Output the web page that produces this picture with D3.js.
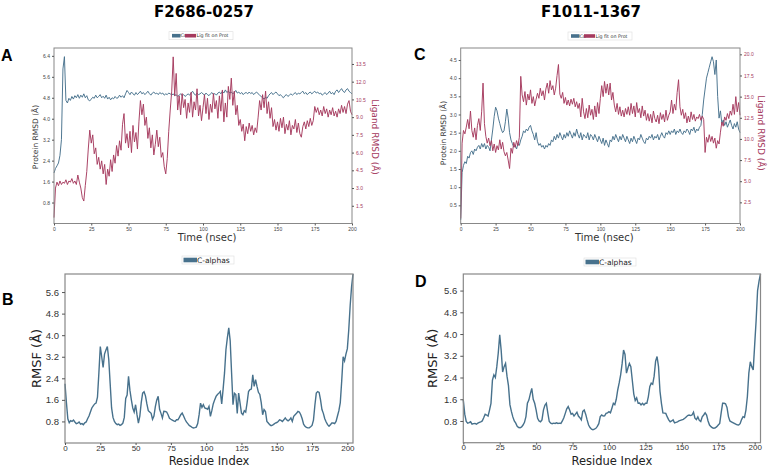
<!DOCTYPE html>
<html>
<head>
<meta charset="utf-8">
<script src="https://cdn.jsdelivr.net/npm/d3@7"></script>
<style>
  body { margin: 0; background: #fff; }
  svg { font-family: "DejaVu Sans", sans-serif; }
</style>
</head>
<body>
<div id="chart"></div>
<script>
// ---- data ----
var titles = ["F2686-0257", "F1011-1367"]
var timeTicks = [0, 25, 50, 75, 100, 125, 150, 175, 200]
var residueTicks = [0, 25, 50, 75, 100, 125, 150, 175, 200]

// panel A : protein RMSD (left axis) and ligand RMSD (right axis), 1 value per ns
var protA = [1.93, 2.1, 2.2, 2.31, 2.6, 3.2, 5.9, 6.37, 4.7, 4.6,
  4.78, 4.7, 4.85, 4.75, 4.88, 4.8, 4.92, 4.78, 4.9, 4.82,
  4.95, 4.8, 4.88, 4.72, 4.68, 4.75, 4.82, 4.78, 4.9, 4.8,
  4.85, 4.92, 4.8, 4.86, 4.78, 4.9, 4.75, 4.82, 4.72, 4.8,
  4.76, 4.85, 4.78, 4.8, 4.9, 4.82, 4.88, 4.8, 4.95, 5.08,
  5.0, 4.92, 5.02, 4.95, 4.9, 5.0, 4.92, 4.98, 5.05, 4.95,
  5.0, 4.92, 4.98, 5.05, 4.96, 4.9, 4.98, 5.02, 4.95, 4.98,
  4.92, 5.0, 4.95, 4.98, 4.9, 4.95, 4.92, 4.98, 4.95, 4.9,
  4.95, 4.88, 4.92, 4.85, 4.9, 4.95, 4.88, 4.92, 4.85, 4.9,
  4.95, 4.9, 4.98, 5.05, 4.95, 4.9, 4.98, 4.92, 4.95, 5.0,
  4.95, 4.9, 4.98, 4.92, 4.88, 4.95, 5.0, 4.92, 4.96, 4.9,
  4.98, 5.02, 4.95, 5.05, 4.98, 5.1, 5.0, 5.05, 4.98, 5.02,
  4.95, 5.0, 5.08, 4.98, 5.02, 4.95, 5.0, 4.92, 4.98, 5.0,
  4.95, 5.02, 4.96, 5.0, 4.92, 4.98, 5.02, 4.95, 4.9, 4.85,
  4.8, 4.75, 4.82, 4.78, 4.88, 4.95, 5.0, 4.92, 4.98, 5.02,
  4.95, 4.88, 4.92, 4.85, 4.8, 4.88, 4.92, 4.85, 4.9, 4.95,
  4.9, 4.95, 5.0, 4.92, 4.98, 4.95, 5.0, 5.05, 4.95, 5.0,
  4.92, 4.98, 5.02, 4.95, 5.0, 5.05, 4.98, 5.02, 4.95, 4.98,
  4.9, 4.95, 5.0, 4.92, 4.98, 5.05, 4.95, 5.0, 4.92, 5.05,
  5.1, 5.0, 5.08, 5.15, 5.05, 5.0, 5.1, 5.15, 5.05, 5.0, 4.95]
var ligA = [0.5, 3.0, 3.5, 3.2, 3.6, 3.3, 3.5, 3.4, 3.7, 3.3,
  3.6, 3.5, 3.8, 3.4, 3.6, 3.3, 4.1, 3.5, 3.0, 2.2,
  1.9, 3.2, 4.4, 6.3, 7.9, 6.8, 7.5, 5.9, 6.4, 5.0,
  5.6, 4.6, 5.3, 4.2, 5.0, 3.3, 4.6, 4.0, 5.4, 4.4,
  5.8, 5.1, 6.6, 5.7, 7.0, 6.2, 8.4, 9.3, 6.8, 7.6,
  6.4, 7.8, 6.0, 8.3, 6.9, 7.7, 6.3, 8.6, 10.4, 9.2,
  10.1, 8.3, 9.0, 7.2, 8.1, 6.4, 7.5, 5.8, 6.7, 7.9,
  6.5, 7.3, 5.6, 6.0, 4.8, 4.2, 5.5, 7.8, 9.6, 11.2,
  14.1, 10.8, 12.7, 9.6, 10.8, 9.2, 11.0, 9.8, 10.5, 8.9,
  10.2, 9.4, 11.1, 9.0, 10.3, 9.6, 11.4, 9.1, 10.0, 8.7,
  9.8, 10.9, 9.3, 10.6, 8.8, 10.1, 9.4, 11.0, 9.7, 10.4,
  8.9, 10.8, 9.5, 11.3, 8.6, 10.2, 9.0, 11.6, 10.5, 12.3,
  10.0, 11.2, 9.2, 10.0, 8.3, 8.8, 7.8, 8.4, 7.0, 8.2,
  7.6, 8.5, 7.8, 8.3, 7.5, 8.1, 7.7, 9.0, 10.4, 9.6,
  10.9, 9.8, 11.2, 9.3, 10.3, 8.9, 9.8, 8.2, 8.8, 7.9,
  8.6, 7.8, 8.9, 8.1, 9.0, 7.6, 8.4, 7.9, 8.7, 7.5,
  8.3, 8.0, 8.8, 7.7, 8.5, 7.6, 7.3, 8.2, 8.6, 8.0,
  8.7, 8.2, 8.9, 8.3, 8.7, 9.9, 9.4, 9.8, 9.2, 9.6,
  9.1, 9.9, 9.3, 9.7, 9.0, 9.6, 9.2, 9.8, 9.1, 9.5,
  9.0, 9.7, 9.3, 10.0, 9.4, 9.9, 9.3, 10.1, 10.4, 9.5, 9.2]

// panel C
var protC = [0.1, 1.4, 1.6, 1.7, 1.65, 1.85, 1.8, 1.95, 2.0, 1.9,
  2.05, 2.0, 2.1, 2.15, 2.05, 2.2, 2.1, 2.2, 2.05, 2.15,
  2.1, 2.0, 2.3, 2.6, 2.95, 3.2, 3.1, 2.9, 2.75, 2.6,
  2.5, 2.55, 2.8, 3.15, 2.9, 2.5, 2.3, 2.2, 2.1, 2.15,
  2.05, 2.2, 2.15, 2.3, 2.4, 2.55, 2.5, 2.6, 2.55, 2.65,
  2.7, 2.55, 2.45, 2.3, 2.5, 2.25, 2.15, 2.2, 2.1, 2.15,
  2.05, 2.15, 2.1, 2.2, 2.15, 2.3, 2.25, 2.4, 2.3, 2.45,
  2.35, 2.5, 2.4, 2.3, 2.45, 2.35, 2.5, 2.4, 2.55, 2.45,
  2.35, 2.5, 2.4, 2.6, 2.45, 2.35, 2.5, 2.3, 2.45, 2.4,
  2.35, 2.5, 2.3, 2.45, 2.4, 2.3, 2.45, 2.35, 2.25, 2.4,
  2.3, 2.2, 2.35, 2.15, 2.3, 2.2, 2.1, 2.3, 2.25, 2.4,
  2.3, 2.45, 2.35, 2.25, 2.4, 2.3, 2.45, 2.35, 2.25, 2.4,
  2.3, 2.2, 2.35, 2.25, 2.4, 2.3, 2.2, 2.35, 2.3, 2.45,
  2.35, 2.25, 2.2, 2.35, 2.3, 2.4, 2.35, 2.45, 2.3, 2.4,
  2.35, 2.45, 2.3, 2.4, 2.5, 2.4, 2.35, 2.5, 2.45, 2.55,
  2.45, 2.55, 2.5, 2.6, 2.45, 2.55, 2.5, 2.6, 2.5, 2.45,
  2.55, 2.5, 2.6, 2.55, 2.45, 2.6, 2.55, 2.65, 2.5, 2.6,
  2.55, 2.65, 2.7, 3.0, 3.4, 3.7, 4.0, 4.15, 4.3, 4.45,
  4.59, 4.45, 4.1, 4.5, 3.5, 2.9, 3.1, 2.75, 2.85, 2.7,
  2.8, 2.65, 2.75, 2.85, 2.7, 2.6, 2.75, 2.65, 2.8, 2.6, 2.5]
var ligC = [0.6, 9.5, 11.0, 10.6, 11.4, 12.3, 11.2, 13.3, 11.0, 10.2,
  11.3, 9.9, 11.6, 12.4, 11.0, 13.2, 16.6, 11.8, 10.3, 9.5,
  10.1, 9.2, 9.8, 8.6, 9.4, 8.4, 9.2, 8.7, 9.9, 8.8,
  9.6, 8.5, 8.0, 8.4, 7.5, 6.5, 8.9, 8.3, 9.6, 9.0,
  9.8, 9.2, 10.2, 17.4, 15.2, 14.4, 15.6, 14.0, 15.3, 14.6,
  15.8, 14.2, 15.0, 13.9, 14.7, 15.4, 14.8, 16.0, 15.1, 15.7,
  14.6, 15.9, 16.6, 15.4, 16.9, 15.8, 16.3, 15.2, 16.0, 17.5,
  18.8, 15.3, 14.8, 15.5, 14.2, 14.9, 14.0, 14.6, 13.9, 14.7,
  14.1, 14.8, 13.8, 14.4, 13.6, 14.2, 12.6, 14.8, 13.2, 12.4,
  13.6, 12.5, 14.0, 12.8, 13.5, 12.3, 13.9, 12.6, 14.3, 13.0,
  14.8, 16.3, 15.0, 16.8, 15.4, 16.5, 15.2, 16.6, 14.6, 15.5,
  14.0, 13.2, 14.2, 12.9, 13.8, 12.7, 13.4, 12.6, 13.6, 12.9,
  13.8, 12.8, 14.2, 13.0, 13.9, 12.6, 14.3, 13.1, 13.6, 12.5,
  13.9, 12.7, 13.4, 12.2, 13.0, 12.1, 12.9, 11.9, 13.3, 12.4,
  12.0, 12.8, 11.8, 13.1, 12.3, 12.9, 12.0, 13.4, 12.2, 12.8,
  13.2, 14.6, 13.0, 14.1, 13.4, 15.5, 17.0, 13.8, 12.8, 13.5,
  12.4, 13.1, 11.9, 12.7, 12.0, 13.2, 12.3, 12.9, 12.1, 12.6,
  12.4, 12.9, 12.2, 12.7, 12.3, 8.4, 10.2, 9.6, 10.5, 9.7,
  10.3, 9.5, 10.1, 8.9, 9.8, 9.4, 10.8, 12.0, 11.5, 12.6,
  12.2, 13.0, 12.4, 13.3, 12.8, 14.1, 12.9, 15.0, 13.2, 14.3, 12.8]

// panel B / D : C-alpha RMSF per residue index 0..204
var rmsfB = [2.2, 1.5, 0.9, 0.75, 0.83, 0.8, 0.85, 0.78, 0.72, 0.74,
  0.78, 0.7, 0.72, 0.68, 0.75, 0.78, 0.9, 1.0, 1.15, 1.3,
  1.38, 1.45, 1.48, 1.7, 2.6, 3.58, 3.2, 2.8, 3.3, 3.45,
  3.58, 3.1, 2.2, 1.3, 0.95, 0.8, 0.72, 0.68, 0.7, 0.65,
  0.68, 0.74, 0.95, 1.65, 1.78, 2.47, 1.95, 1.6, 1.3, 1.15,
  1.42, 1.05, 0.74, 1.0, 1.5, 1.85, 1.9, 1.75, 1.45, 1.2,
  1.15, 1.1, 0.88, 1.0, 1.35, 1.6, 1.73, 1.25, 1.1, 0.93,
  1.18, 1.17, 1.15, 1.05, 0.92, 0.88, 0.85, 0.82, 0.8, 0.86,
  0.86, 0.95, 1.05, 1.11, 1.0, 0.88, 0.78, 0.72, 0.65, 0.62,
  0.58, 0.56, 0.57, 0.59, 0.72, 1.05, 1.48, 1.32, 1.42, 1.3,
  1.28, 1.25, 1.36, 0.99, 1.2, 1.45, 1.6, 1.73, 1.8, 1.85,
  1.91, 1.45, 2.0, 2.6, 3.46, 3.9, 4.27, 3.8, 2.6, 1.42,
  1.85, 1.8, 1.1, 1.85, 1.48, 1.11, 1.05, 1.2, 1.15, 1.5,
  1.91, 1.98, 2.0, 2.53, 2.1, 2.35, 2.1, 1.88, 1.8, 1.5,
  1.05, 1.24, 1.17, 0.8, 0.74, 0.68, 0.64, 0.66, 0.7, 0.74,
  0.76, 0.8, 0.86, 0.84, 0.8, 0.86, 0.93, 0.86, 0.82, 0.86,
  0.93, 0.8, 0.99, 1.05, 1.1, 1.17, 1.15, 1.05, 0.9, 0.7,
  0.62, 0.58, 0.56, 0.56, 0.6, 0.65, 0.85, 1.4, 1.85, 1.91,
  1.88, 1.6, 1.24, 1.1, 0.9, 0.78, 0.68, 0.62, 0.68, 0.74,
  0.74, 0.72, 0.8, 1.0, 1.2, 1.5, 2.3, 3.2, 3.05, 3.3,
  3.5, 4.2, 5.1, 5.8, 6.27]
var rmsfD = [1.57, 1.05, 0.78, 0.72, 0.74, 0.77, 0.68, 0.7, 0.71, 0.68,
  0.72, 0.75, 0.77, 0.8, 0.92, 1.05, 1.02, 0.98, 1.2, 1.45,
  2.3, 2.5, 2.4, 2.8, 3.3, 3.97, 3.4, 2.6, 2.8, 2.92,
  2.45, 2.1, 1.4, 1.15, 0.95, 0.8, 0.72, 0.6, 0.56, 0.55,
  0.58, 0.65, 0.75, 0.96, 1.45, 1.57, 1.8, 2.0, 1.6, 1.45,
  1.2, 0.9, 0.8, 0.77, 0.84, 1.2, 1.38, 1.45, 1.1, 0.78,
  0.72, 0.7, 0.72, 0.71, 0.73, 0.71, 0.72, 0.71, 0.8, 0.92,
  1.08, 1.25, 1.33, 1.2, 1.05, 1.08, 0.98, 1.05, 1.12, 0.98,
  0.92, 0.84, 1.15, 1.2, 1.05, 0.84, 0.65, 0.56, 0.5, 0.48,
  0.5, 0.53, 0.6, 0.7, 0.96, 1.02, 0.98, 0.99, 1.08, 1.1,
  1.14, 1.1, 1.27, 1.45, 1.4, 1.6, 1.94, 2.2, 2.5, 2.9,
  3.41, 3.25, 2.56, 2.75, 2.92, 2.8, 2.3, 1.8, 1.55, 1.65,
  1.45, 1.46, 1.39, 1.45, 1.39, 1.45, 1.45, 1.69, 2.06, 2.19,
  2.15, 2.45, 3.0, 3.17, 2.8, 1.9, 1.45, 1.1, 1.09, 1.08,
  0.95, 0.84, 0.77, 0.8, 0.84, 0.73, 0.75, 0.77, 0.8, 0.82,
  0.84, 0.86, 0.9, 0.95, 1.0, 1.02, 1.0, 1.02, 1.12, 0.9,
  0.85, 0.95, 0.82, 0.78, 0.95, 1.02, 1.1, 1.02, 0.8, 0.65,
  0.59, 0.55, 0.53, 0.55, 0.59, 0.65, 0.71, 1.1, 1.45, 1.45,
  1.43, 1.3, 0.96, 0.8, 0.77, 0.74, 0.71, 0.68, 0.66, 0.65,
  0.7, 0.85, 0.96, 0.93, 1.2, 1.7, 2.56, 2.98, 2.8, 2.68,
  3.6, 4.5, 5.6, 5.95, 6.21]

var protTicksA = [0.8, 1.6, 2.4, 3.2, 4.0, 4.8, 5.6, 6.4]
var ligTicksA = [1.5, 3.0, 4.5, 6.0, 7.5, 9.0, 10.5, 12.0, 13.5]
var protTicksC = [0.5, 1.0, 1.5, 2.0, 2.5, 3.0, 3.5, 4.0, 4.5]
var ligTicksC = [2.5, 5.0, 7.5, 10.0, 12.5, 15.0, 17.5, 20.0]
var rmsfTicks = [0.8, 1.6, 2.4, 3.2, 4.0, 4.8, 5.6]

var blue = "#47718c"
var red = "#a53a5e"
var width = 771, height = 467

var svg = d3.select("#chart").append("svg")
    .attr("width", width)
    .attr("height", height)

// titles and panel letters
svg.selectAll("text.title").data(titles).enter().append("text")
    .attr("class", "title")
    .attr("x", function(d, i) { return i == 0 ? 204 : 591 })
    .attr("y", 17)
    .attr("text-anchor", "middle")
    .style("font-size", "15px").style("font-weight", "bold")
    .text(function(d) { return d })

var letters = [["A", 1, 61], ["B", 2, 305], ["C", 414, 60], ["D", 415, 287]]
letters.forEach(function(l) {
    svg.append("text").attr("x", l[1]).attr("y", l[2])
        .style("font-size", "16px").style("font-weight", "bold")
        .style("font-family", "Liberation Sans, Arial, sans-serif")
        .text(l[0])
})

function styleAxis(g, color, fs) {
    g.select(".domain").remove()
    g.selectAll("line").attr("stroke", "#555")
    g.selectAll("text").attr("fill", color).style("font-size", fs)
}

// RMSD panel with two y axes
function rmsdPanel(o) {
    var x = d3.scaleLinear().domain([0, 200]).range([o.left, o.right])
    var yL = d3.scaleLinear().domain([0, o.maxL]).range([o.bottom, o.top])
    var yR = d3.scaleLinear().domain([0, o.maxR]).range([o.bottom, o.top])
    var g = svg.append("g")

    var lineL = d3.line().x(function(d, i) { return x(i) }).y(function(d) { return yL(d) })
    var lineR = d3.line().x(function(d, i) { return x(i) }).y(function(d) { return yR(d) })

    // protein first, then ligand on top
    g.append("path").datum(o.prot).attr("d", lineL)
        .attr("fill", "none").attr("stroke", blue).attr("stroke-width", 1).attr("stroke-opacity", 0.95)
    g.append("path").datum(o.lig).attr("d", lineR)
        .attr("fill", "none").attr("stroke", red).attr("stroke-width", 1).attr("stroke-opacity", 0.95)

    g.append("rect").attr("x", o.left).attr("y", o.top)
        .attr("width", o.right - o.left).attr("height", o.bottom - o.top)
        .attr("fill", "none").attr("stroke", "#888").attr("stroke-width", 1)

    var ax = g.append("g").attr("transform", "translate(0," + o.bottom + ")")
        .call(d3.axisBottom(x).tickValues(timeTicks).tickSize(2).tickPadding(1.5))
    styleAxis(ax, "#444", "5px")
    var al = g.append("g").attr("transform", "translate(" + o.left + ",0)")
        .call(d3.axisLeft(yL).tickValues(o.ticksL).tickSize(2).tickPadding(2).tickFormat(d3.format(".1f")))
    styleAxis(al, "#444", "5px")
    var ar = g.append("g").attr("transform", "translate(" + o.right + ",0)")
        .call(d3.axisRight(yR).tickValues(o.ticksR).tickSize(2).tickPadding(2).tickFormat(d3.format(".1f")))
    styleAxis(ar, red, "5px")

    g.append("text").attr("x", (o.left + o.right) / 2 + 4).attr("y", o.bottom + 17)
        .attr("text-anchor", "middle").style("font-size", "10px").attr("fill", "#333")
        .text("Time (nsec)")
    g.append("text").attr("transform", "translate(" + o.labL + "," + o.labY + ") rotate(-90)")
        .attr("text-anchor", "middle").style("font-size", "7.5px").attr("fill", "#333")
        .text("Protein RMSD (Å)")
    g.append("text").attr("transform", "translate(" + o.labR + "," + o.labY + ") rotate(90)")
        .attr("text-anchor", "middle").style("font-size", "9px").attr("fill", red)
        .text("Ligand RMSD (Å)")

    // legend (entries overlap as in the original)
    var lg = g.append("g").attr("transform", "translate(" + o.legX + "," + o.legY + ")")
    lg.append("rect").attr("x", 0).attr("y", -4).attr("width", 64).attr("height", 8)
        .attr("fill", "#fff").attr("stroke", "#ddd").attr("stroke-width", 0.6)
    lg.append("rect").attr("x", 3).attr("y", -1.8).attr("width", 8.5).attr("height", 3.6).attr("fill", blue)
    lg.append("text").attr("x", 11.5).attr("y", 1.7).style("font-size", "4.8px").attr("fill", "#333").text("Cα")
    lg.append("rect").attr("x", 16).attr("y", -1.8).attr("width", 11).attr("height", 3.6).attr("fill", red)
    lg.append("text").attr("x", 27.5).attr("y", 1.7).style("font-size", "4.8px").attr("fill", "#333").text("Lig fit on Prot")
}

// RMSF panel
function rmsfPanel(o) {
    var x = d3.scaleLinear().domain([0, 204]).range([o.left, o.right])
    var y = d3.scaleLinear().domain([0, d3.max(o.data)]).range([o.bottom, o.top])
    var g = svg.append("g")

    var line = d3.line().x(function(d, i) { return x(i) }).y(function(d) { return y(d) })
    g.append("path").datum(o.data).attr("d", line)
        .attr("fill", "none").attr("stroke", blue).attr("stroke-width", 1.4)

    g.append("rect").attr("x", o.left).attr("y", o.top)
        .attr("width", o.right - o.left).attr("height", o.bottom - o.top)
        .attr("fill", "none").attr("stroke", "#888").attr("stroke-width", 1.2)

    var ax = g.append("g").attr("transform", "translate(0," + o.bottom + ")")
        .call(d3.axisBottom(x).tickValues(residueTicks).tickSize(2).tickPadding(0))
    styleAxis(ax, "#333", "8px")
    var ay = g.append("g").attr("transform", "translate(" + o.left + ",0)")
        .call(d3.axisLeft(y).tickValues(rmsfTicks).tickSize(3).tickPadding(3).tickFormat(d3.format(".1f")))
    styleAxis(ay, "#333", "9.5px")

    g.append("text").attr("x", (o.left + o.right) / 2).attr("y", 465)
        .attr("text-anchor", "middle").style("font-size", "11.5px").attr("fill", "#222")
        .text("Residue Index")
    g.append("text").attr("transform", "translate(" + o.labX + "," + (o.top + o.bottom) / 2 + ") rotate(-90)")
        .attr("text-anchor", "middle").style("font-size", "13px").attr("fill", "#222")
        .text("RMSF (Å)")

    var lg = g.append("g").attr("transform", "translate(" + o.legX + "," + o.legY + ")")
    lg.append("rect").attr("x", 0).attr("y", -4).attr("width", 52).attr("height", 8)
        .attr("fill", "#fff").attr("stroke", "#ddd").attr("stroke-width", 0.6)
    lg.append("rect").attr("x", 1.5).attr("y", -2.3).attr("width", 13.5).attr("height", 4.6).attr("fill", blue)
    lg.append("text").attr("x", 15).attr("y", 2.6).style("font-size", "7.5px").attr("fill", "#222").text("C-alphas")
}

rmsdPanel({ prot: protA, lig: ligA, left: 54, right: 352, top: 48, bottom: 223.5,
    maxL: 6.7, maxR: 14.85, ticksL: protTicksA, ticksR: ligTicksA,
    labL: 38, labR: 372, labY: 137, legX: 169, legY: 35.7 })
rmsdPanel({ prot: protC, lig: ligC, left: 460.7, right: 740, top: 48, bottom: 223.5,
    maxL: 4.83, maxR: 20.75, ticksL: protTicksC, ticksR: ligTicksC,
    labL: 446, labR: 758, labY: 133, legX: 568, legY: 36 })
rmsfPanel({ data: rmsfB, left: 65, right: 353, top: 274, bottom: 443,
    labX: 41, legX: 182, legY: 260 })
rmsfPanel({ data: rmsfD, left: 463.3, right: 760.5, top: 274, bottom: 442.7,
    labX: 437, legX: 584, legY: 262 })
</script>
</body>
</html>
